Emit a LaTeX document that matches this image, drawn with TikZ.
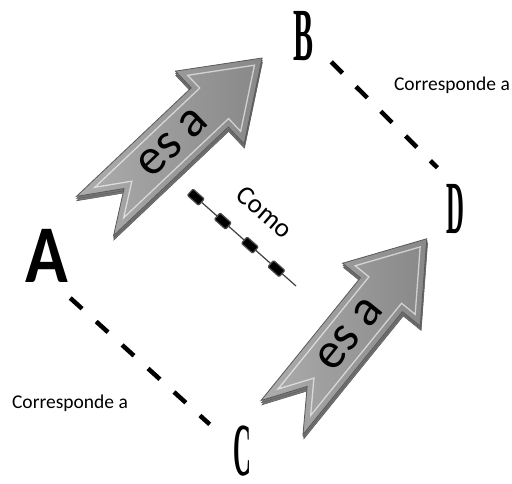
\documentclass[tikz,border=0pt]{standalone}
\usepackage{fontspec}
\newfontfamily\calibri{Carlito}
\newfontfamily\titling{Liberation Serif}
\usetikzlibrary{calc}

\definecolor{arrowlight}{HTML}{ADADAD}
\definecolor{arrowdark}{HTML}{888888}
\definecolor{arrowside}{HTML}{777777}
\definecolor{arrowrim}{HTML}{5A5A5A}

\tikzset{
  letter/.style={inner sep=0pt, font=\titling\bfseries\fontsize{75}{75}\selectfont},
  corrline/.style={line width=4.5pt, dash pattern=on 16pt off 19pt},
  comoline/.style={line width=1.2pt, black!75},
  comobox/.style={fill=black, draw=black!70, minimum width=15pt, minimum height=8.5pt,
    inner sep=0pt, sloped, rounded corners=1pt},
  labeltext/.style={inner sep=0pt, font=\calibri\fontsize{19.5}{20}\selectfont},
  esatext/.style={inner sep=0pt, font=\calibri\fontsize{51}{51}\selectfont},
  pics/esarrow/.style={code={
    % stacked edge under the face
    \foreach \k in {2,1}
      \fill[arrowside, draw=arrowrim, line width=0.5pt, shift={(-1.4*\k,1.7*\k)}]
        (0,-27) -- (158,-27) -- (158,-50) -- (230,0) -- (158,50) -- (158,27)
        -- (0,27) -- (40,0) -- cycle;
    % face
    \shade[left color=arrowlight, right color=arrowdark, draw=arrowrim, line width=0.8pt]
      (0,-27) -- (158,-27) -- (158,-50) -- (230,0) -- (158,50) -- (158,27)
      -- (0,27) -- (40,0) -- cycle;
    % bevel
    \draw[white, opacity=0.6, line width=1.3pt]
      (19.6,-21) -- (164,-21) -- (164,-38.6) -- (219.5,0) -- (164,38.6) -- (164,21)
      -- (19.6,21) -- (50.7,0) -- cycle;
    \node[esatext, transform shape] (-label) at (107,0) {es a};
  }}
}

\begin{document}
\begin{tikzpicture}[x=1pt, y=-1pt]
  \useasboundingbox (0,0) rectangle (512,483);

  % the four letters
  \node[inner sep=0pt, anchor=base, font=\calibri\bfseries\fontsize{82}{82}\selectfont]
    (A) at (46.5,282) {\scalebox{0.86}[1]{A}};
  \node[letter] (B) at (304,36) {\scalebox{0.4}[1]{B}};
  \node[letter] (C) at (242.5,451.5) {\scalebox{0.33}[1]{C}};
  \node[letter] (D) at (455.5,209.5) {\scalebox{0.33}[1]{D}};

  % the two arrows
  \pic[rotate=43.4] (arrowAB) at (95,216) {esarrow};
  \pic[rotate=51] (arrowCD) at (282,417.5) {esarrow};

  % correspondences
  \draw[corrline] ([shift={(17,1)}]B.south east) -- ([shift={(-9,-17)}]D.north west);
  \draw[corrline, shorten <=28pt, shorten >=36pt]
    ([shift={(3,-3)}]A.south) -- ([shift={(3,-3)}]C.west);
  \node[labeltext, anchor=base] (corrBD) at (452,90.5) {Corresponde a};
  \node[labeltext, anchor=base] (corrAC) at (70,408) {Corresponde a};

  % analogy link
  \coordinate (comoStart) at (190,192);
  \coordinate (comoEnd) at (296,286);
  \draw[comoline] (comoStart) -- (comoEnd)
    \foreach \p in {0.055,0.31,0.565,0.815} { node[comobox, pos=\p] {} };
  \node[inner sep=0pt, rotate=-41, font=\calibri\fontsize{27}{27}\selectfont]
    (como) at (265,212) {Como};
\end{tikzpicture}
\end{document}
